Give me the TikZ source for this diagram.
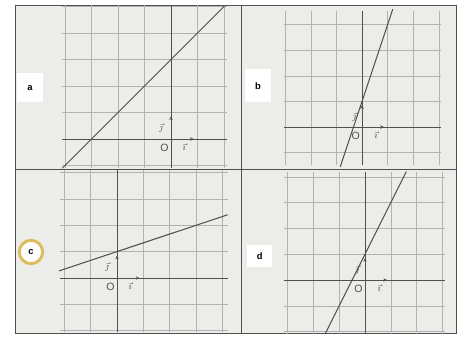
\documentclass[tikz,border=0pt]{standalone}
\usepackage{fontspec}
\setsansfont{Liberation Sans}
\usetikzlibrary{arrows.meta}
\definecolor{pagegray}{RGB}{236,236,232}
\definecolor{inkgray}{RGB}{80,80,80}
\definecolor{ringgold}{RGB}{222,186,96}
\tikzset{
  gridline/.style={draw=gray!60, line width=0.5pt},
  axisline/.style={draw=inkgray, line width=0.8pt},
  graphline/.style={draw=inkgray, line width=0.9pt},
  unitvec/.style={draw=inkgray, line width=0.8pt, -{Stealth[length=3pt,width=3pt]}},
  framebox/.style={draw=inkgray, line width=0.8pt},
  tagbox/.style={fill=white, text=black, font=\sffamily\bfseries\footnotesize, inner sep=0pt},
  axlabel/.style={text=inkgray, font=\sffamily\small, inner sep=0pt},
  veclabel/.style={text=inkgray, font=\footnotesize, inner sep=0pt}
}
\begin{document}
\begin{tikzpicture}
  % Page and frame
  \useasboundingbox (0,0) rectangle (14.04,10.14);
  \fill[white] (0,0) rectangle (14.04,10.14);
  \fill[pagegray] (0.45,0.15) rectangle (13.68,9.99);
  \draw[framebox] (0.45,0.15) rectangle (13.68,9.99);
  \draw[framebox] (7.23,0.15) -- (7.23,9.99);
  \draw[framebox] (0.45,5.07) -- (13.68,5.07);
  % Panel a: y = x + 3
  \begin{scope}[shift={(5.13,5.97)}, scale=0.795]
    \draw[gridline] (-4.1,-1.1) grid (2.1,5.05);
    \draw[axisline] (-4.1,0) -- (2.1,0);
    \draw[axisline] (0,-1.1) -- (0,5.05);
    \draw[graphline] (-4.1,-1.1) -- (2.05,5.05);
    \draw[unitvec] (0,0) -- (0.85,0);
    \draw[unitvec] (0,0) -- (0,0.85);
    \node[axlabel] (Oa) at (-0.25,-0.33) {O};
    \node[veclabel] (ia) at (0.5,-0.3) {$\vec{\imath}$};
    \node[veclabel] (ja) at (-0.38,0.42) {$\vec{\jmath}$};
  \end{scope}
  % Panel b: y = 3x + 1
  \begin{scope}[shift={(10.86,6.33)}, scale=0.768]
    \draw[gridline] (-3.05,-1.5) grid (3.1,4.55);
    \draw[axisline] (-3.05,0) -- (3.1,0);
    \draw[axisline] (0,-1.5) -- (0,4.55);
    \draw[graphline] (-0.85,-1.55) -- (1.2,4.6);
    \draw[unitvec] (0,0) -- (0.85,0);
    \draw[unitvec] (0,0) -- (0,0.85);
    \node[axlabel] (Ob) at (-0.25,-0.33) {O};
    \node[veclabel] (ib) at (0.55,-0.33) {$\vec{\imath}$};
    \node[veclabel] (jb) at (-0.3,0.38) {$\vec{\jmath}$};
  \end{scope}
  % Panel c: y = x/3 + 1
  \begin{scope}[shift={(3.51,1.80)}, scale=0.79]
    \draw[gridline] (-2.15,-2.05) grid (4.2,4.1);
    \draw[axisline] (-2.15,0) -- (4.2,0);
    \draw[axisline] (0,-2.05) -- (0,4.1);
    \draw[graphline] (-2.2,0.27) -- (4.2,2.4);
    \draw[unitvec] (0,0) -- (0.85,0);
    \draw[unitvec] (0,0) -- (0,0.85);
    \node[axlabel] (Oc) at (-0.25,-0.33) {O};
    \node[veclabel] (ic) at (0.5,-0.3) {$\vec{\imath}$};
    \node[veclabel] (jc) at (-0.38,0.42) {$\vec{\jmath}$};
  \end{scope}
  % Panel d: y = 2x + 1
  \begin{scope}[shift={(10.95,1.74)}, scale=0.774]
    \draw[gridline] (-3.15,-2.1) grid (3.1,4.2);
    \draw[axisline] (-3.15,0) -- (3.1,0);
    \draw[axisline] (0,-2.1) -- (0,4.2);
    \draw[graphline] (-1.55,-2.1) -- (1.6,4.2);
    \draw[unitvec] (0,0) -- (0.85,0);
    \draw[unitvec] (0,0) -- (0,0.85);
    \node[axlabel] (Od) at (-0.25,-0.33) {O};
    \node[veclabel] (id) at (0.55,-0.3) {$\vec{\imath}$};
    \node[veclabel] (jd) at (-0.3,0.4) {$\vec{\jmath}$};
  \end{scope}
  % Panel tags
  \node[tagbox, minimum width=0.78cm, minimum height=0.87cm] (taga) at (0.9,7.5) {a};
  \node[tagbox, minimum width=0.78cm, minimum height=0.99cm] (tagb) at (7.74,7.56) {b};
  \node[tagbox, circle, draw=ringgold, line width=2.5pt, minimum size=0.7cm] (tagc) at (0.93,2.58) {c};
  \node[tagbox, minimum width=0.75cm, minimum height=0.66cm] (tagd) at (7.79,2.46) {d};
\end{tikzpicture}
\end{document}
